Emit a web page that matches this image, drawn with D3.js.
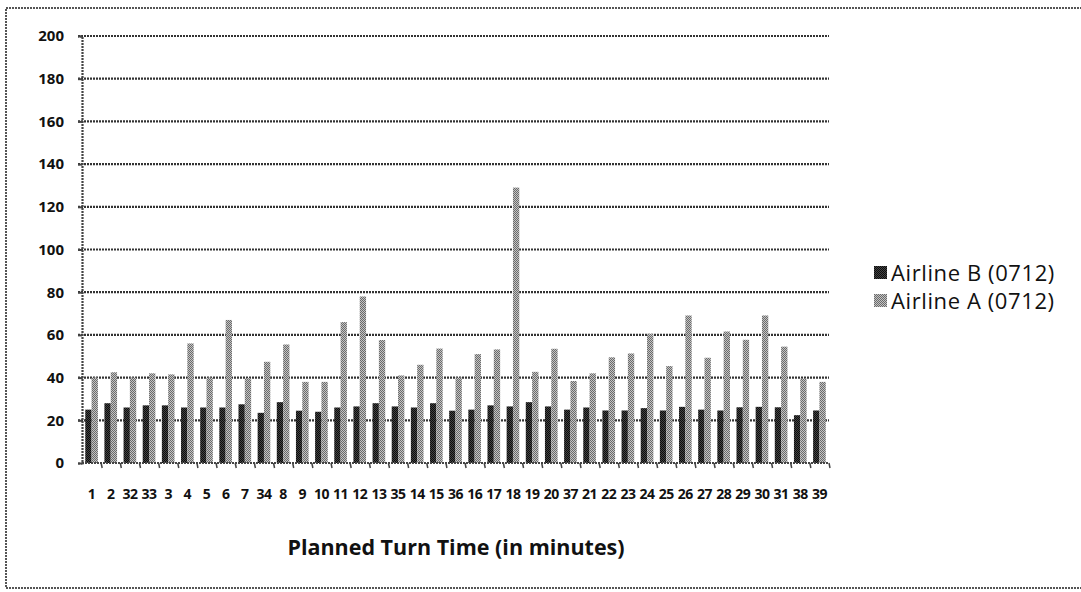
<!DOCTYPE html>
<html>
<head>
<meta charset="utf-8">
<script src="https://cdn.jsdelivr.net/npm/d3@7/dist/d3.min.js"></script>
<style>
  html, body { margin: 0; padding: 0; background: #fff; }
  svg { display: block; }
</style>
</head>
<body>
<svg id="chart" width="1081" height="592"></svg>
<script>
// Turn times per planned-turn-time bucket
const categories = ["1","2","32","33","3","4","5","6","7","34","8","9","10","11","12","13","35","14","15","36",
  "16","17","18","19","20","37","21","22","23","24","25","26","27","28","29","30","31","38","39"];
const airlineB = [25,28,26,27,27,26,26,26,27.5,23.5,28.5,24.5,24,26,26.5,28,26.5,26,28,24.5,
  25,27,26.5,28.5,26.5,25,26,24.6,24.6,25.7,24.6,26.3,25,24.6,26.1,26.3,26.1,22.4,24.6];
const airlineA = [40,42.5,40,42,41.5,56,40,67,39.7,47.4,55.5,38,38,66,78,57.6,41,46,53.6,40,
  51,53.2,129,42.7,53.5,38.4,42,49.5,51.3,60.5,45.4,69.1,49.3,61.6,57.7,69.1,54.5,39.5,38];
const seriesNames = ["Airline B (0712)", "Airline A (0712)"];
const yTicks = [0,20,40,60,80,100,120,140,160,180,200];

const svg = d3.select("#chart");
const font = "'Open Sans', Lato, sans-serif";

// textured fills
const defs = svg.append("defs");
function checker(id, c1, c2) {
  const p = defs.append("pattern").attr("id", id).attr("width", 2).attr("height", 2)
    .attr("patternUnits", "userSpaceOnUse");
  p.append("rect").attr("width", 2).attr("height", 2).attr("fill", c2);
  p.append("rect").attr("width", 1).attr("height", 1).attr("fill", c1);
  p.append("rect").attr("x", 1).attr("y", 1).attr("width", 1).attr("height", 1).attr("fill", c1);
}
checker("patB", "#0c0c0c", "#444");
checker("patA", "#6a6a6a", "#c4c4c4");

// outer frame
svg.append("rect").attr("x", 6).attr("y", 8).attr("width", 1100).attr("height", 580)
  .attr("fill", "none").attr("stroke", "#555").attr("stroke-width", 2).attr("stroke-dasharray", "2,1");

const plotLeft = 82, plotRight = 829, plotTop = 36, plotBottom = 463;

const x = d3.scaleBand().domain(categories).range([plotLeft, plotRight]).paddingInner(0).paddingOuter(0);
const y = d3.scaleLinear().domain([0, 200]).range([plotBottom, plotTop]);

// horizontal gridlines
svg.append("g").selectAll("line").data(yTicks.filter(d => d > 0)).join("line")
  .attr("x1", plotLeft - 4).attr("x2", plotRight)
  .attr("y1", d => y(d)).attr("y2", d => y(d))
  .attr("stroke", "#333").attr("stroke-width", 2.2).attr("stroke-dasharray", "2,1");

// y axis
const yAxis = svg.append("g").attr("transform", `translate(${plotLeft},0)`)
  .call(d3.axisLeft(y).tickValues(yTicks).tickSize(4).tickPadding(14));
yAxis.select(".domain").attr("stroke", "#444").attr("stroke-width", 2.2).attr("stroke-dasharray", "2,1");
yAxis.selectAll(".tick line").attr("stroke", "#444").attr("stroke-width", 2);
yAxis.selectAll(".tick text").attr("font-family", font).attr("font-size", 15)
  .attr("font-weight", 700).attr("fill", "#111");

// bars
const bw = x.bandwidth();
const barW = bw * 0.33;
const barOffset = bw * 0.17;
const g = svg.append("g");
g.selectAll("rect.b").data(airlineB).join("rect").attr("class", "b")
  .attr("x", (d, i) => x(categories[i]) + barOffset)
  .attr("width", barW)
  .attr("y", d => y(d)).attr("height", d => plotBottom - y(d))
  .attr("fill", "url(#patB)");
g.selectAll("rect.a").data(airlineA).join("rect").attr("class", "a")
  .attr("x", (d, i) => x(categories[i]) + barOffset + barW)
  .attr("width", barW)
  .attr("y", d => y(d)).attr("height", d => plotBottom - y(d))
  .attr("fill", "url(#patA)");

// x axis with ticks on category boundaries
const xAxisG = svg.append("g").attr("transform", `translate(0,${plotBottom})`);
xAxisG.append("line").attr("x1", plotLeft).attr("x2", plotRight).attr("stroke", "#444")
  .attr("stroke-width", 2.2).attr("stroke-dasharray", "2,1");
xAxisG.selectAll("line.tk").data(categories).join("line").attr("class", "tk")
  .attr("x1", d => x(d) + bw).attr("x2", d => x(d) + bw + 1)
  .attr("y1", 0).attr("y2", 5).attr("stroke", "#444").attr("stroke-width", 1.5);
xAxisG.selectAll("text").data(categories).join("text")
  .attr("x", d => x(d) + bw / 2).attr("y", 36)
  .attr("text-anchor", "middle").attr("font-family", font).attr("font-size", 14)
  .attr("font-weight", 700).attr("letter-spacing", -0.5).attr("fill", "#111").text(d => d);

// axis title
svg.append("text").attr("x", 456).attr("y", 555).attr("text-anchor", "middle")
  .attr("font-family", font).attr("font-size", 21.5).attr("font-weight", 700).attr("fill", "#111")
  .text("Planned Turn Time (in minutes)");

// legend
const legend = svg.append("g");
["patB", "patA"].forEach((p, i) => {
  const ly = 273 + i * 28;
  legend.append("rect").attr("x", 874).attr("y", ly - 7).attr("width", 13).attr("height", 13)
    .attr("fill", `url(#${p})`);
  legend.append("text").attr("x", 891).attr("y", ly + 8).attr("font-family", font)
    .attr("font-size", 22).attr("letter-spacing", 0.6).attr("fill", "#111").text(seriesNames[i]);
});
</script>
</body>
</html>
